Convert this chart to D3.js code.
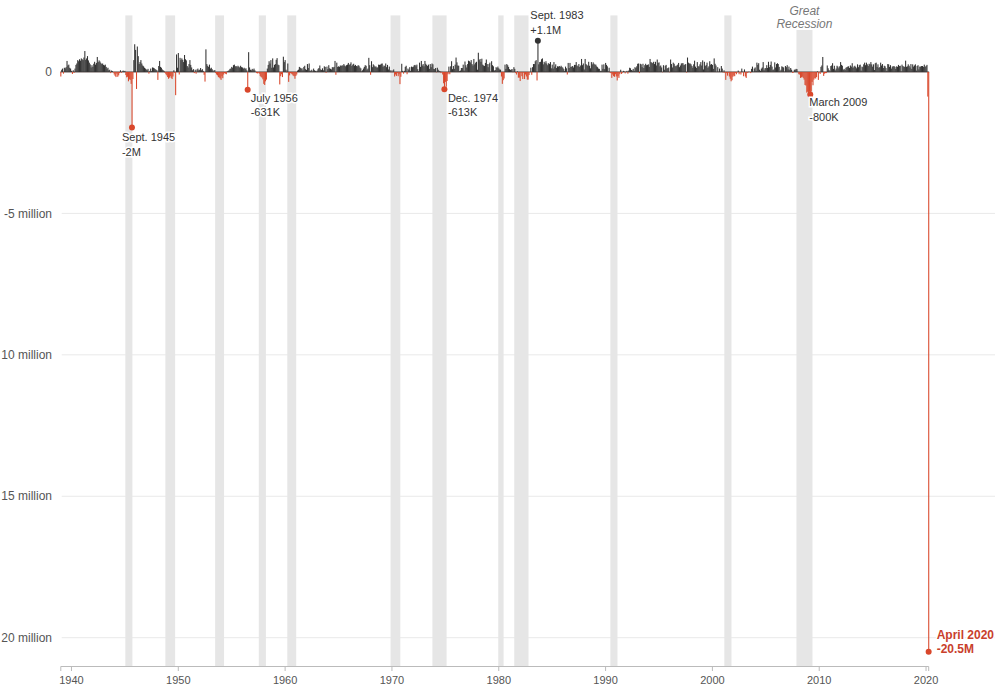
<!DOCTYPE html>
<html>
<head>
<meta charset="utf-8">
<script src="https://cdn.jsdelivr.net/npm/d3@7"></script>
<style>
  html, body { margin: 0; padding: 0; background: #fff; }
  svg { display: block; font-family: "Liberation Sans", Arial, Helvetica, sans-serif; }
</style>
</head>
<body>
<svg id="chart" width="995" height="696"></svg>
<script>
// ---- DATA: monthly change in nonfarm payrolls, thousands of jobs (Jan 1939 – Apr 2020) ----
const startMonth = "1939-01";
const jobs1939to1949 = [
  -160, 80, 120, -60, 150, 130, 170, 390, 230, 260, 150, 120,      // 1939
  40, -70, 60, -30, 120, 250, 300, 420, 380, 450, 400, 480,        // 1940
  450, 420, 510, 740, 430, 480, 560, 410, 330, 270, 160, 240,      // 1941
  180, 290, 360, 260, 320, 530, 350, 410, 370, 320, 280, 300,      // 1942
  250, 230, 260, 180, 120, 150, 60, 80, -40, 50, 30, -20,          // 1943
  -90, -140, -180, -60, -170, -120, -40, 60, -30, 20, 50, 30,      // 1944
  40, -110, -190, -170, -330, -260, -280, -420, -1960, -250, 420, 980, // 1945
  780, -600, 900, 560, 280, 350, 420, 300, 230, 200, 150, 120,     // 1946
  90, 60, 110, -60, 40, 120, 30, 160, 150, 130, 100, 80,           // 1947
  60, -280, 210, 390, 180, 150, 90, 60, 40, -30, -80, -120,        // 1948
  -180, -240, -200, -150, -210, -250, -160, 60, -30, -820, 620, 150 // 1949
];
const jobs1950s = [
  670, -90, 500, 420, 480, 430, 350, 600, 450, 410, 210, 160,      // 1950
  280, 420, 250, 160, 60, 100, -40, 80, -60, 90, 120, 60,          // 1951
  80, 140, 60, 100, 40, -100, -340, 800, 280, 220, 180, 260,       // 1952
  120, 150, 100, 60, 20, 70, -40, -90, -120, -180, -200, -230,     // 1953
  -280, -150, -220, -90, -40, -60, -80, 20, 40, 60, 110, 120,      // 1954
  180, 150, 240, 260, 200, 210, 170, 220, 190, 160, 220, 170,      // 1955
  160, 120, 150, 110, 130, 60, -631, 700, 160, 80, 60, 110,        // 1956
  80, 120, 60, 10, -40, -50, -20, -60, -140, -180, -200, -260,     // 1957
  -420, -460, -330, -270, 120, 250, 380, 300, 420, 150, 480, 160,  // 1958
  250, 280, 430, 490, 260, 240, -440, -150, -80, -180, 540, 350    // 1959
];
const jobs1960s = [
  420, 80, -20, 300, -350, -120, -40, -60, -90, -130, -150, -240,  // 1960
  -140, -90, 50, 80, 180, 150, 120, 130, 60, 180, 220, 100,        // 1961
  70, 280, 140, 300, 40, 50, 80, 20, 120, 60, 40, 20,              // 1962
  50, 110, 140, 230, 90, 70, 130, 60, 200, 180, -30, 190,          // 1963
  100, 240, 130, 110, 90, 170, 160, 180, 390, -100, 330, 180,      // 1964
  200, 180, 230, 210, 240, 220, 280, 230, 200, 240, 260, 320,      // 1965
  250, 280, 340, 210, 260, 290, 220, 250, 210, 200, 240, 220,      // 1966
  160, 130, 20, 60, 120, 180, 240, 220, 80, 120, 500, 240,         // 1967
  -100, 380, 170, 270, 230, 180, 200, 160, 160, 260, 250, 260,     // 1968
  290, 300, 180, 230, 210, 300, 170, 250, 90, 190, 60, -10         // 1969
];
const jobs1970s = [
  60, -10, 90, -160, -90, -140, -40, -150, -80, -430, -170, 290,   // 1970
  40, -60, 40, 180, 220, -80, 120, 80, 170, 40, 190, 170,          // 1971
  190, 240, 250, 200, 260, 100, 30, 330, 180, 390, 230, 280,       // 1972
  200, 390, 290, 250, 210, 260, 110, 280, 170, 300, 270, 110,      // 1973
  100, 140, -10, 150, 80, 40, 30, -40, 10, -90, -400, -613,        // 1974
  -350, -520, -320, -80, 190, -80, 200, 380, 100, 210, 110, 260,   // 1975
  510, 340, 230, 220, 30, 50, 140, 140, 260, 50, 370, 240,         // 1976
  160, 280, 400, 380, 340, 420, 280, 230, 460, 270, 330, 360,      // 1977
  80, 680, 420, 460, 360, 470, 260, 230, 210, 320, 440, 280,       // 1978
  170, 280, 330, 10, 380, 240, 200, 50, 70, 170, 140, 190          // 1979
];
const jobs1980s = [
  130, 90, 80, -160, -420, -290, -230, 260, 110, 280, 240, 180,    // 1980
  100, 70, 90, 100, -10, 170, 110, -40, -90, 20, -200, -200,       // 1981
  -320, -20, -150, -250, -20, -250, -90, -160, -270, -270, -110, -10, // 1982
  150, -100, 170, 280, 280, 380, 420, -300, 1100, 270, 350, 360,   // 1983
  450, 480, 270, 360, 310, 380, 300, 240, 310, 280, 350, 130,      // 1984
  260, 120, 350, 190, 270, 140, 200, 190, 210, 180, 220, 180,      // 1985
  150, 100, 30, 190, 130, -90, 320, 140, 320, 180, 190, 210,       // 1986
  160, 250, 250, 350, 230, 200, 280, 180, 230, 460, 240, 300,      // 1987
  90, 460, 280, 250, 220, 360, 220, 130, 350, 270, 340, 290,       // 1988
  260, 260, 200, 170, 120, 110, 40, 40, 260, 110, 270, 100         // 1989
];
const jobs1990s = [
  320, 250, 200, 20, 150, -20, -40, -210, -90, -150, -170, -80,    // 1990
  -160, -300, -150, -210, -80, 80, -70, -20, 40, 20, -50, 10,      // 1991
  40, -60, 50, 150, 130, 70, 50, 110, 40, 170, 140, 200,           // 1992
  290, 300, -40, 290, 270, 170, 290, 140, 240, 290, 240, 250,      // 1993
  270, 180, 460, 350, 330, 310, 360, 280, 360, 230, 440, 320,      // 1994
  340, 200, 230, 160, -10, 240, 80, 220, 250, 120, 140, 160,       // 1995
  -10, 440, 280, 160, 330, 290, 220, 200, 230, 260, 320, 170,      // 1996
  230, 300, 310, 310, 240, 260, 280, -20, 510, 330, 300, 300,      // 1997
  270, 210, 150, 270, 400, 190, 140, 350, 200, 200, 270, 350,      // 1998
  230, 410, 90, 360, 210, 250, 330, 150, 200, 380, 260, 280        // 1999
];
const jobs2000s = [
  250, 110, 480, 290, 230, 0, 170, 10, 120, 10, 210, 120,          // 2000
  -20, 60, -30, -280, -40, -130, -20, -160, -240, -330, -290, -170, // 2001
  -130, -150, -30, -80, -10, 50, -80, -10, -90, 120, 10, -150,     // 2002
  90, -160, -210, -40, -20, 10, 0, -40, 110, 190, 10, 120,         // 2003
  160, 40, 330, 250, 310, 80, 40, 120, 160, 350, 60, 130,          // 2004
  140, 240, 140, 360, 170, 250, 370, 190, 70, 90, 340, 160,        // 2005
  280, 310, 280, 180, 20, 80, 200, 180, 160, 10, 210, 170,         // 2006
  240, 90, 190, 80, 140, 80, -30, -20, 80, 80, 110, 100,           // 2007
  10, -80, -90, -210, -190, -170, -210, -270, -460, -480, -730, -700, // 2008
  -780, -700, -800, -690, -350, -470, -270, -220, -230, -180, 20, -280 // 2009
];
const jobs2010s = [
  -20, -70, 180, 230, 530, -140, -60, -40, -40, 230, 130, 70,      // 2010
  20, 210, 230, 310, 110, 220, 60, 120, 220, 190, 130, 200,        // 2011
  350, 250, 220, 80, 110, 70, 150, 170, 190, 200, 140, 230,        // 2012
  190, 310, 140, 190, 220, 180, 130, 270, 170, 240, 260, 50,       // 2013
  190, 170, 270, 330, 240, 330, 270, 210, 290, 270, 350, 270,      // 2014
  190, 270, 70, 310, 330, 180, 270, 150, 170, 330, 230, 280,       // 2015
  140, 220, 200, 140, 40, 280, 270, 180, 240, 120, 190, 200,       // 2016
  210, 180, 110, 200, 180, 250, 210, 220, 20, 260, 210, 190,       // 2017
  180, 400, 180, 200, 270, 220, 160, 280, 110, 270, 190, 230,      // 2018
  270, 50, 210, 240, 90, 190, 190, 210, 210, 180, 260, 180         // 2019
];
const jobs2020s = [214, 251, -870, -20500];                          // 2020

// Recessions (NBER peak / trough months)
const recessionStarts = ["1945-02","1948-11","1953-07","1957-08","1960-04","1969-12","1973-11","1980-01","1981-07","1990-07","2001-03","2007-12"];
const recessionEnds   = ["1945-10","1949-10","1954-05","1958-04","1961-02","1970-11","1975-03","1980-07","1982-11","1991-03","2001-11","2009-06"];

// Axis ticks (labels as they appear in the reference)
const yTickValues = [0, -5e6, -10e6, -15e6, -20e6];
const yTickLabels = ["0", "-5 million", "10 million", "15 million", "20 million"];
const xTickYears = [1940, 1950, 1960, 1970, 1980, 1990, 2000, 2010, 2020];

// Annotations
const noteMonths = ["1945-09", "1956-07", "1974-12", "1983-09", "2009-03", "2020-04"];
const noteTitles = ["Sept. 1945", "July 1956", "Dec. 1974", "Sept. 1983", "March 2009", "April 2020"];
const noteValues = ["-2M", "-631K", "-613K", "+1.1M", "-800K", "-20.5M"];
const shadedLabel = ["Great", "Recession"];

// ---- BUILD ----
const parseMonth = d3.timeParse("%Y-%m");
const allJobs = [].concat(jobs1939to1949, jobs1950s, jobs1960s, jobs1970s, jobs1980s, jobs1990s, jobs2000s, jobs2010s, jobs2020s);
const start = parseMonth(startMonth);
const data = allJobs.map((v, i) => ({ date: d3.timeMonth.offset(start, i), value: v * 1000 }));
const lastDate = data[data.length - 1].date;

const W = 995, H = 696;
const svg = d3.select("#chart");
svg.append("rect").attr("width", W).attr("height", H).attr("fill", "#fff");

const x = d3.scaleTime().domain([start, lastDate]).range([60.3, 928.2]);
const y = d3.scaleLinear().domain([-21e6, 2e6]).range([666, 15.4]);

const barW = (x(d3.timeMonth.offset(start, 1)) - x(start));

// gridlines
svg.append("g").selectAll("line")
  .data(yTickValues.filter(v => v !== 0))
  .join("line")
  .attr("x1", 61.7).attr("x2", 995)
  .attr("y1", d => y(d)).attr("y2", d => y(d))
  .attr("stroke", "#e9e9e9").attr("stroke-width", 1);

// recession bands
svg.append("g").selectAll("rect")
  .data(recessionStarts.map((s, i) => [parseMonth(s), parseMonth(recessionEnds[i])]))
  .join("rect")
  .attr("x", d => x(d[0]))
  .attr("width", d => x(d[1]) - x(d[0]))
  .attr("y", y(2e6))
  .attr("height", y(-21e6) - y(2e6))
  .attr("fill", "#e6e6e6");

// y labels
svg.append("g").selectAll("text")
  .data(yTickValues)
  .join("text")
  .attr("x", 52)
  .attr("y", d => y(d))
  .attr("dy", "0.35em")
  .attr("text-anchor", "end")
  .attr("font-size", 12)
  .attr("fill", "#555")
  .text((d, i) => yTickLabels[i]);

// zero baseline
svg.append("line")
  .attr("x1", x(start)).attr("x2", x(lastDate) + barW)
  .attr("y1", y(0)).attr("y2", y(0))
  .attr("stroke", "#5a4a46").attr("stroke-width", 1);

// bars
svg.append("g").selectAll("rect")
  .data(data)
  .join("rect")
  .attr("x", d => x(d.date))
  .attr("width", barW + 0.15)
  .attr("y", d => y(Math.max(0, d.value)))
  .attr("height", d => Math.abs(y(d.value) - y(0)))
  .attr("fill", d => d.value >= 0 ? "#333" : "#d9472b");

// x axis
const xAxis = d3.axisBottom(x)
  .tickValues(xTickYears.map(yr => new Date(yr, 0, 1)))
  .tickFormat(d3.timeFormat("%Y"))
  .tickSize(5);
const gx = svg.append("g").attr("transform", `translate(0,${y(-21e6)})`).call(xAxis);
gx.select(".domain").attr("stroke", "#bbb");
gx.selectAll(".tick line").attr("stroke", "#bbb");
gx.selectAll(".tick text").attr("fill", "#555").attr("font-size", 11)
  .attr("font-family", "'Liberation Sans', Arial, sans-serif").attr("dy", "0.9em");

// Great Recession label (white backing)
const grMid = (x(parseMonth("2007-12")) + x(parseMonth("2009-06"))) / 2;
svg.append("rect").attr("x", grMid - 33).attr("y", 2).attr("width", 66).attr("height", 28).attr("fill", "#fff");
svg.append("g").selectAll("text")
  .data(shadedLabel)
  .join("text")
  .attr("x", grMid)
  .attr("y", (d, i) => 14.8 + i * 13.5)
  .attr("text-anchor", "middle")
  .attr("font-size", 12)
  .attr("font-style", "italic")
  .attr("fill", "#777")
  .text(d => d);

// annotations
const noteLayout = [
  { dx: -10, dy: 14, color: "#333", dot: "#d9472b", bold: false },
  { dx: 3, dy: 12, color: "#333", dot: "#d9472b", bold: false },
  { dx: 3.5, dy: 12.5, color: "#333", dot: "#d9472b", bold: false },
  { dx: -7.5, dy: -21.5, color: "#333", dot: "#333", bold: false },
  { dx: -1, dy: 11.5, color: "#333", dot: "#d9472b", bold: false },
  { dx: 8, dy: -13, color: "#c9402c", dot: "#d9472b", bold: true }
];
const byDate = new Map(data.map(d => [+d.date, d]));
noteMonths.forEach((m, i) => {
  const d = byDate.get(+parseMonth(m));
  const cx = x(d.date) + barW / 2;
  const cy = y(d.value);
  const L = noteLayout[i];
  svg.append("circle").attr("cx", cx).attr("cy", cy).attr("r", 3).attr("fill", L.dot);
  const t = svg.append("text")
    .attr("x", cx + L.dx).attr("y", cy + L.dy)
    .attr("font-size", L.bold ? 12 : 11)
    .attr("font-weight", L.bold ? "bold" : "normal")
    .attr("fill", L.color)
    .attr("stroke", "#fff").attr("stroke-width", 3).attr("paint-order", "stroke");
  t.append("tspan").attr("x", cx + L.dx).text(noteTitles[i]);
  t.append("tspan").attr("x", cx + L.dx).attr("dy", 14.5).text(noteValues[i]);
});
</script>
</body>
</html>
